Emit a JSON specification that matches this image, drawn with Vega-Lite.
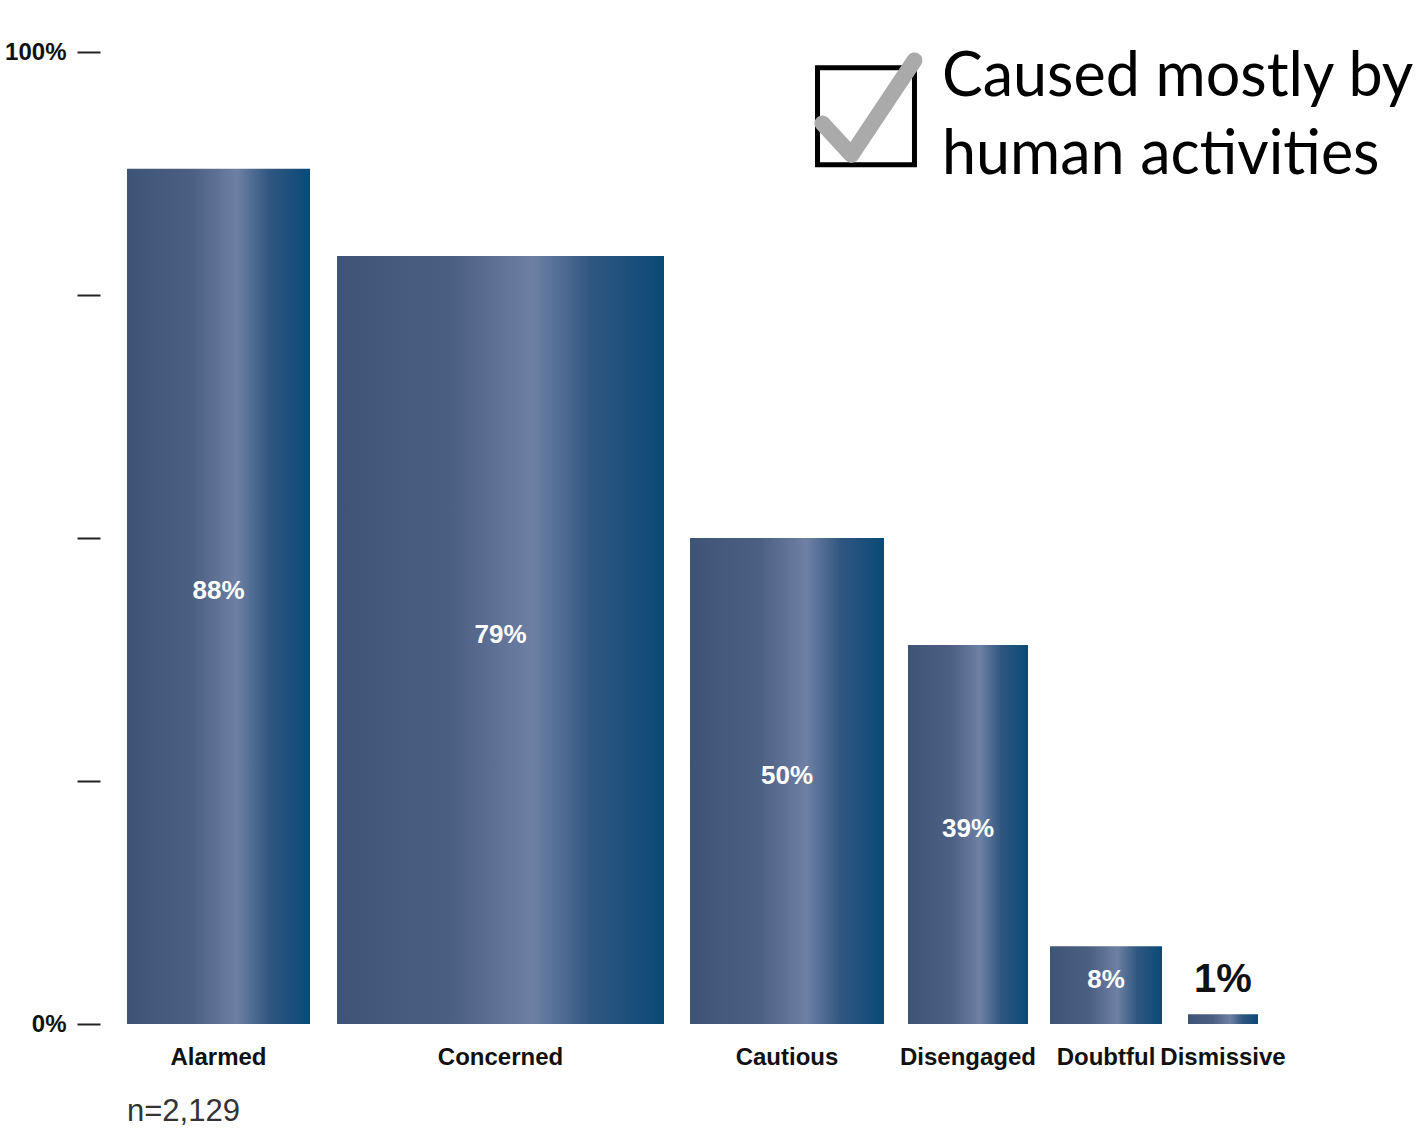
{
  "$schema": "https://vega.github.io/schema/vega-lite/v6.json",
  "width": 1190,
  "height": 972,
  "autosize": {"type": "none"},
  "padding": {"left": 100, "top": 52, "right": 126, "bottom": 107},
  "background": "white",
  "config": {"view": {"stroke": null}},
  "data": {
    "values": [
      {"segment": "Alarmed", "start": 2.7, "end": 21.0, "value": 88, "label": "88%"},
      {"segment": "Concerned", "start": 23.7, "end": 56.4, "value": 79, "label": "79%"},
      {"segment": "Cautious", "start": 59.0, "end": 78.4, "value": 50, "label": "50%"},
      {"segment": "Disengaged", "start": 80.8, "end": 92.8, "value": 39, "label": "39%"},
      {"segment": "Doubtful", "start": 95.0, "end": 106.2, "value": 8, "label": "8%"},
      {"segment": "Dismissive", "start": 108.8, "end": 115.8, "value": 1, "label": "1%"}
    ]
  },
  "transform": [
    {"calculate": "(datum.start + datum.end) / 2", "as": "mid"},
    {"calculate": "datum.value / 2", "as": "half"}
  ],
  "layer": [
    {
      "mark": {
        "type": "bar",
        "color": {
          "gradient": "linear",
          "x1": 0, "y1": 0, "x2": 1, "y2": 0,
          "stops": [
            {"offset": 0, "color": "#3e5476"},
            {"offset": 0.35, "color": "#4b5f82"},
            {"offset": 0.6, "color": "#6e80a3"},
            {"offset": 0.78, "color": "#2f5680"},
            {"offset": 1, "color": "#0a4a76"}
          ]
        }
      },
      "encoding": {
        "x": {"field": "start", "type": "quantitative", "scale": {"domain": [0, 119], "nice": false, "zero": false}, "axis": null},
        "x2": {"field": "end"},
        "y": {
          "field": "value", "type": "quantitative",
          "scale": {"domain": [0, 100], "nice": false},
          "axis": {
            "title": null, "values": [0, 25, 50, 75, 100],
            "labelExpr": "datum.value == 0 ? '0%' : datum.value == 100 ? '100%' : ''",
            "domain": false, "grid": false,
            "tickSize": 23, "tickWidth": 2, "tickColor": "#222",
            "labelPadding": 11, "labelFont": "Liberation Sans",
            "labelFontSize": 24, "labelFontWeight": "bold", "labelColor": "#111"
          }
        },
        "y2": {"datum": 0}
      }
    },
    {
      "transform": [{"filter": "datum.segment != 'Dismissive'"}],
      "mark": {"type": "text", "color": "white", "fontSize": 26, "fontWeight": "bold", "font": "Liberation Sans", "baseline": "middle", "align": "center", "dy": -5},
      "encoding": {
        "x": {"field": "mid", "type": "quantitative"},
        "y": {"field": "half", "type": "quantitative"},
        "text": {"field": "label"}
      }
    },
    {
      "transform": [{"filter": "datum.segment == 'Dismissive'"}],
      "mark": {"type": "text", "color": "#111", "fontSize": 40, "fontWeight": "bold", "font": "Liberation Sans", "baseline": "bottom", "align": "center", "dy": -14},
      "encoding": {
        "x": {"field": "mid", "type": "quantitative"},
        "y": {"field": "value", "type": "quantitative"},
        "text": {"field": "label"}
      }
    },
    {
      "mark": {"type": "text", "color": "#111", "fontSize": 24, "fontWeight": "bold", "font": "Liberation Sans", "baseline": "middle", "align": "center", "dy": 34},
      "encoding": {
        "x": {"field": "mid", "type": "quantitative"},
        "y": {"datum": 0, "type": "quantitative"},
        "text": {"field": "segment"}
      }
    },
    {
      "data": {"values": [{"note": "n=2,129"}]},
      "mark": {"type": "text", "color": "#333", "fontSize": 31, "letterSpacing": 1, "font": "Liberation Sans", "baseline": "middle", "align": "left", "dy": 88},
      "encoding": {
        "x": {"datum": 2.7, "type": "quantitative"},
        "y": {"datum": 0, "type": "quantitative"},
        "text": {"field": "note"}
      }
    },
    {
      "data": {"values": [{"key": "box"}]},
      "mark": {"type": "point", "shape": "square", "filled": false, "stroke": "black", "strokeWidth": 5, "size": 9400, "opacity": 1},
      "encoding": {
        "x": {"datum": 76.6, "type": "quantitative"},
        "y": {"datum": 93.4, "type": "quantitative"}
      }
    },
    {
      "data": {"values": [{"key": "check"}]},
      "mark": {"type": "point", "shape": "M -0.9 0.15 L -0.3 0.8 L 1.0 -1.15", "filled": false, "stroke": "#aaaaaa", "strokeWidth": 16, "strokeCap": "round", "strokeJoin": "round", "size": 9400, "opacity": 1},
      "encoding": {
        "x": {"datum": 76.6, "type": "quantitative"},
        "y": {"datum": 93.4, "type": "quantitative"}
      }
    },
    {
      "data": {"values": [{"title": ["Caused mostly by", "human activities"]}]},
      "mark": {"type": "text", "color": "black", "fontSize": 61, "font": "Lato", "baseline": "alphabetic", "align": "left", "lineHeight": 78},
      "encoding": {
        "x": {"datum": 84.2, "type": "quantitative"},
        "y": {"datum": 95.5, "type": "quantitative"},
        "text": {"field": "title"}
      }
    }
  ]
}
